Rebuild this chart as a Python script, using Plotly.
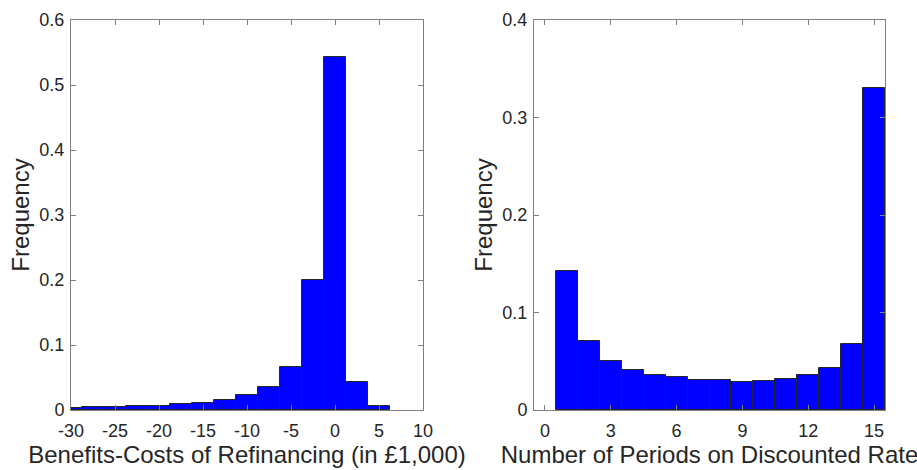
import plotly.graph_objects as go

# Left histogram: Benefits-Costs of Refinancing (in £1,000)
left_centers = [-30, -27.5, -25, -22.5, -20, -17.5, -15, -12.5, -10, -7.5, -5, -2.5, 0, 2.5, 5]
left_freq = [0.003, 0.004, 0.0046, 0.0056, 0.0067, 0.0087, 0.0113, 0.0159, 0.0231, 0.0359,
             0.0667, 0.200, 0.5436, 0.0436, 0.0067]
left_xticks = [-30, -25, -20, -15, -10, -5, 0, 5, 10]
left_yticks = [0, 0.1, 0.2, 0.3, 0.4, 0.5, 0.6]

# Right histogram: Number of Periods on Discounted Rate
right_centers = [1, 2, 3, 4, 5, 6, 7, 8, 9, 10, 11, 12, 13, 14, 15]
right_freq = [0.1429, 0.0704, 0.0499, 0.0414, 0.0362, 0.0335, 0.0304, 0.0304, 0.0284,
              0.0301, 0.0321, 0.0362, 0.0431, 0.068, 0.330]
right_xticks = [0, 3, 6, 9, 12, 15]
right_yticks = [0, 0.1, 0.2, 0.3, 0.4]

W, H = 917, 470
FONT = "Liberation Sans, Arial, Helvetica, sans-serif"
TXT = "#262626"
AX = "#808080"

fig = go.Figure()
fig.add_trace(go.Bar(x=left_centers, y=left_freq, width=2.5,
                     marker=dict(color="#0000FF", line=dict(color="#262626", width=1)),
                     xaxis="x", yaxis="y", showlegend=False))
fig.add_trace(go.Bar(x=right_centers, y=right_freq, width=1,
                     marker=dict(color="#0000FF", line=dict(color="#262626", width=1)),
                     xaxis="x2", yaxis="y2", showlegend=False))

def px_x(a, b):
    return [a / W, b / W]

ydom = [(H - 410) / H, (H - 20) / H]

common_axis = dict(showline=True, linecolor=AX, linewidth=1, mirror="allticks",
                   ticks="inside", ticklen=5, tickcolor=AX, tickwidth=1,
                   showgrid=False, zeroline=False, automargin=False,
                   tickfont=dict(family=FONT, size=18, color=TXT))
TF = dict(family=FONT, size=24, color=TXT)

fig.update_layout(
    width=W, height=H,
    margin=dict(l=0, r=0, t=0, b=0),
    paper_bgcolor="white", plot_bgcolor="white",
    bargap=0,
    xaxis=dict(domain=px_x(71, 423), range=[-30, 10], tickvals=left_xticks,
               ticktext=[str(v) for v in left_xticks], anchor="y",
               title=dict(text="Benefits-Costs of Refinancing (in £1,000)", font=TF, standoff=4),
               ticklabelstandoff=4, **common_axis),
    yaxis=dict(domain=ydom, range=[0, 0.6], tickvals=left_yticks,
               ticktext=["0", "0.1", "0.2", "0.3", "0.4", "0.5", "0.6"], anchor="x",
               title=dict(text="Frequency", font=TF, standoff=2),
               ticklabelstandoff=2, **common_axis),
    xaxis2=dict(domain=px_x(534, 885), range=[-0.5, 15.5], tickvals=right_xticks,
                anchor="y2",
                title=dict(text="Number of Periods on Discounted Rate", font=TF, standoff=4),
                ticklabelstandoff=4, **common_axis),
    yaxis2=dict(domain=ydom, range=[0, 0.4], tickvals=right_yticks,
                ticktext=["0", "0.1", "0.2", "0.3", "0.4"], anchor="x2",
                title=dict(text="Frequency", font=TF, standoff=2),
                ticklabelstandoff=2, **common_axis),
)

fig.write_html("out.html")
